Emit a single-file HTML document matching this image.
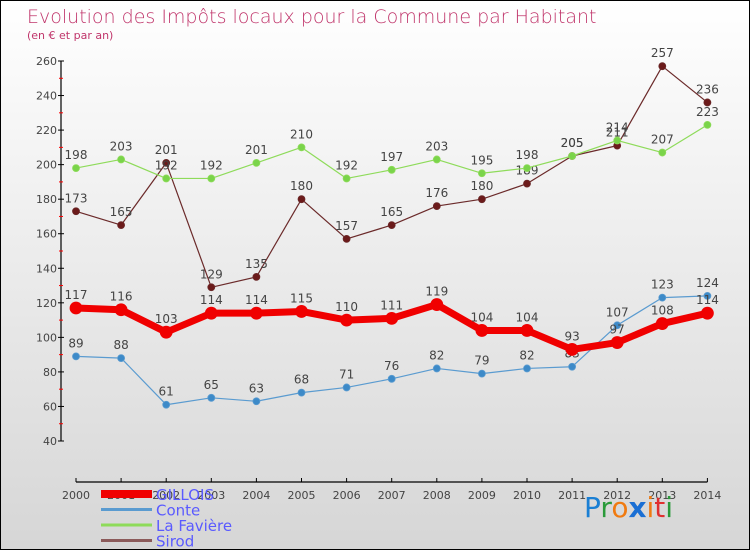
<!DOCTYPE html>
<html><head><meta charset="utf-8"><style>
body{margin:0}
#c{width:748px;height:548px;border:1px solid #000;background:linear-gradient(#ffffff,#d6d6d6);position:relative;font-family:"DejaVu Sans","Liberation Sans",sans-serif;overflow:hidden}
</style></head><body>
<div id="c">
<svg id="s" width="748" height="548" xmlns="http://www.w3.org/2000/svg">
<text x="26" y="22" font-size="19" fill="#c0356b" font-family="DejaVu Sans, sans-serif" font-weight="200">Evolution des Impôts locaux pour la Commune par Habitant</text>
<text x="26" y="38" font-size="11" fill="#c0356b">(en € et par an)</text>
<g id="axes"></g><g id="series"></g><g id="legend"></g>
<text x="583" y="516" font-size="28" font-family="DejaVu Sans, sans-serif"><tspan fill="#1a7fd4">P</tspan><tspan fill="#2a9a3a">r</tspan><tspan fill="#f07a10">o</tspan><tspan fill="#1a6fd4" font-weight="bold">x</tspan><tspan fill="#f07a10">i</tspan><tspan fill="#e03030">t</tspan><tspan fill="#2a9a3a">i</tspan></text>
</svg></div>
<script>
const years=[2000,2001,2002,2003,2004,2005,2006,2007,2008,2009,2010,2011,2012,2013,2014];
const yTicks=[40,60,80,100,120,140,160,180,200,220,240,260];
const gillois=[117,116,103,114,114,115,110,111,119,104,104,93,97,108,114];
const conte=[89,88,61,65,63,68,71,76,82,79,82,83,107,123,124];
const faviere=[198,203,192,192,201,210,192,197,203,195,198,205,214,207,223];
const sirod=[173,165,201,129,135,180,157,165,176,180,189,205,211,257,236];
const NS="http://www.w3.org/2000/svg";
function X(i){return 75+i*45.1;}
function Y(v){return 440-(v-40)*380/220;}
function mk(t,a,p){const e=document.createElementNS(NS,t);for(const k in a)e.setAttribute(k,a[k]);p.appendChild(e);return e;}
const ax=document.getElementById('axes');
let e=mk('line',{x1:60,y1:60,x2:60,y2:440,stroke:'#000','stroke-width':1.2},ax);

yTicks.forEach((v,i)=>{
 mk('line',{x1:57,y1:Y(v),x2:63,y2:Y(v),stroke:'#000'},ax);
 if(i<yTicks.length-1){mk('line',{x1:58,y1:Y(v+10),x2:62,y2:Y(v+10),stroke:'#f00'},ax);}
 const t=mk('text',{x:56,y:Y(v)+4,'font-size':11,fill:'#444','text-anchor':'end'},ax);t.textContent=v;
 
});
e=mk('line',{x1:X(0),y1:481,x2:X(14),y2:481,stroke:'#000','stroke-width':1.2},ax);

years.forEach((y,i)=>{
 mk('line',{x1:X(i),y1:477,x2:X(i),y2:481,stroke:'#000'},ax);
 const t=mk('text',{x:X(i),y:498,'font-size':11,fill:'#444','text-anchor':'middle'},ax);t.textContent=y;
 
});
const sg=document.getElementById('series');
function draw(vals,name,col,dot,w,r){
 const g=mk('g',{},sg);
 
 const l=mk('polyline',{points:vals.map((v,i)=>X(i)+','+Y(v)).join(' '),fill:'none',stroke:col,'stroke-width':w,'stroke-linejoin':'round'},g);
 
 vals.forEach((v,i)=>{
  const c=mk('circle',{cx:X(i),cy:Y(v),r:r,fill:dot,stroke:col,'stroke-width':0.8},g);
  
  const t=mk('text',{x:X(i),y:Y(v)-9,'font-size':12,fill:'#444','text-anchor':'middle'},g);t.textContent=v;
  
 });
}
draw(sirod,'sirod','#6b2a2a','#6b1a1a',1.2,3.5);
draw(faviere,'la-faviere','#8edb5a','#7ad44a',1.2,3.5);
draw(conte,'conte','#5a9bd0','#3d8ac8',1.2,3.5);
draw(gillois,'gillois','#f00000','#f00000',7,6);
const lg=document.getElementById('legend');
const names=['GILLOIS','Conte','La Favière','Sirod'],cols=['#f00000','#5a9bd0','#8edb5a','#8b5a5a'],ws=[8,3,3,3];
names.forEach((n,i)=>{
 const y=493+i*15.5;
 const g=mk('g',{},lg);
 
 mk('line',{x1:100,y1:y,x2:151,y2:y,stroke:cols[i],'stroke-width':ws[i]},g);
 const t=mk('text',{x:155,y:y+6,'font-size':15,fill:'#5a5aff'},g);t.textContent=n;
});
</script>
</body></html>
